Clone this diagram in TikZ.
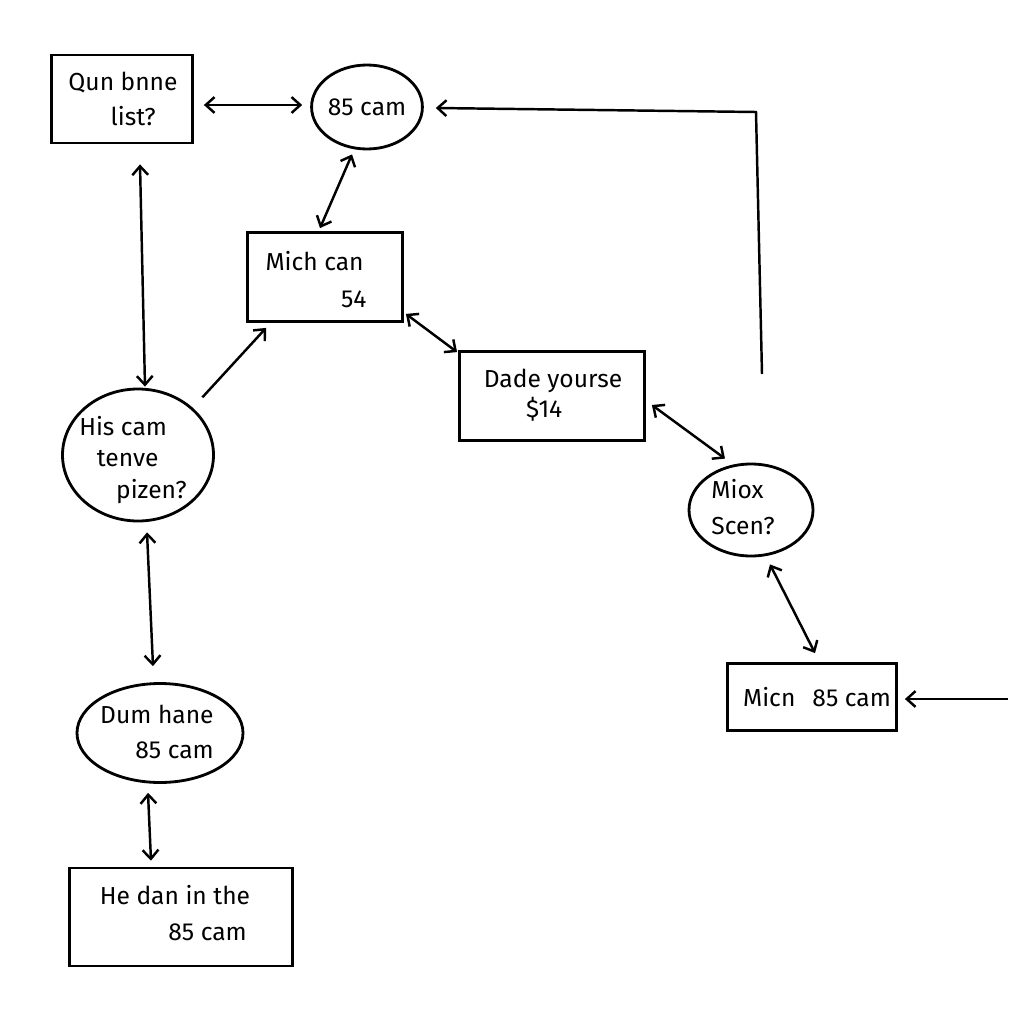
\documentclass[tikz,border=0pt]{standalone}
\usepackage{fontspec}
\setmainfont{Fira Sans}
\usetikzlibrary{shapes.geometric,arrows.meta,calc}
\begin{document}
\begin{tikzpicture}[x=0.02cm,y=-0.02cm,
  every node/.style={font=\fontsize{14}{20}\selectfont, inner sep=0pt},
  box/.style={draw, line width=1.6pt, rectangle},
  oval/.style={draw, line width=1.6pt, ellipse},
  link/.style={line width=1.4pt, {Straight Barb[length=5pt,width=9pt]}-{Straight Barb[length=5pt,width=9pt]}},
  onelink/.style={line width=1.4pt, -{Straight Barb[length=5pt,width=9pt]}}
]
\useasboundingbox (0,0) rectangle (1024,1024);

\node[box, minimum width=141*0.02cm, minimum height=88*0.02cm] (A) at (122,99) {};
\node[align=left] at (123,99) {Qun bnne\\\hspace*{24pt}list?};

\node[oval, minimum width=100*0.02cm, minimum height=84*0.02cm] (B) at (367,107) {85 cam};

\node[box, minimum width=155*0.02cm, minimum height=89*0.02cm] (C) at (325,277) {};
\node[align=left, font=\fontsize{14}{21}\selectfont] at (316,280) {Mich can\\\hspace*{43pt}54};

\node[box, minimum width=185*0.02cm, minimum height=89*0.02cm] (D) at (552,396) {};
\node[align=center, font=\fontsize{14}{17}\selectfont] at (553,395) {Dade yourse\\\$14\hspace*{10pt}};

\node[oval, minimum width=151*0.02cm, minimum height=132*0.02cm] (E) at (138,455) {};
\node[align=left, font=\fontsize{14}{18}\selectfont] at (133,460) {His cam\\\hspace*{10pt}tenve\\\hspace*{21pt}pizen?};

\node[oval, minimum width=124*0.02cm, minimum height=92*0.02cm] (F) at (751,510) {};
\node[align=left, font=\fontsize{14}{21}\selectfont] at (743,507) {Miox\\Scen?};

\node[box, minimum width=169*0.02cm, minimum height=67*0.02cm] (G) at (812,697) {};
\node at (817,697) {Micn\hspace*{6pt} 85 cam};

\node[oval, minimum width=166*0.02cm, minimum height=99*0.02cm] (H) at (160,733) {};
\node[align=left] at (157,732) {Dum hane\\\hspace*{20pt}85 cam};

\node[box, minimum width=223*0.02cm, minimum height=98*0.02cm] (I) at (181,917) {};
\node[align=left] at (175,913) {He dan in the\\\hspace*{39pt}85 cam};

% connectors
\draw[link] ($(A.east)+(10,6)$) -- ($(B.west)+(-8,-2)$);
\draw[link] ($(A.south)+(18,20)$) -- ($(E.north)+(7,-1)$);
\draw[link] ($(B.south)+(-15,4)$) -- ($(C.north)+(-5,-3)$);
\draw[onelink] ($(E.north east)+(10,-10)$) -- ($(C.south west)+(20,5)$);
\draw[link] ($(C.south east)+(2,-9)$) -- ($(D.north west)+(-1,2)$);
\draw[link] ($(D.east)+(6,9)$) -- ($(F.north)+(-26,-4)$);
\draw[link] ($(F.south)+(19,7)$) -- ($(G.north)+(3,-9)$);
\draw[link] ($(E.south)+(9,10)$) -- ($(H.north)+(-7,-16)$);
\draw[link] ($(H.south)+(-12,9)$) -- ($(I.north)+(-30,-6)$);

\coordinate (tailR) at (762,374);
\coordinate (corner) at (756,112);
\draw[onelink] (tailR) -- (corner) -- ($(B.east)+(12,1)$);

\coordinate (tailG) at (1008,699);
\draw[onelink] (tailG) -- ($(G.east)+(7,2)$);
\end{tikzpicture}
\end{document}
